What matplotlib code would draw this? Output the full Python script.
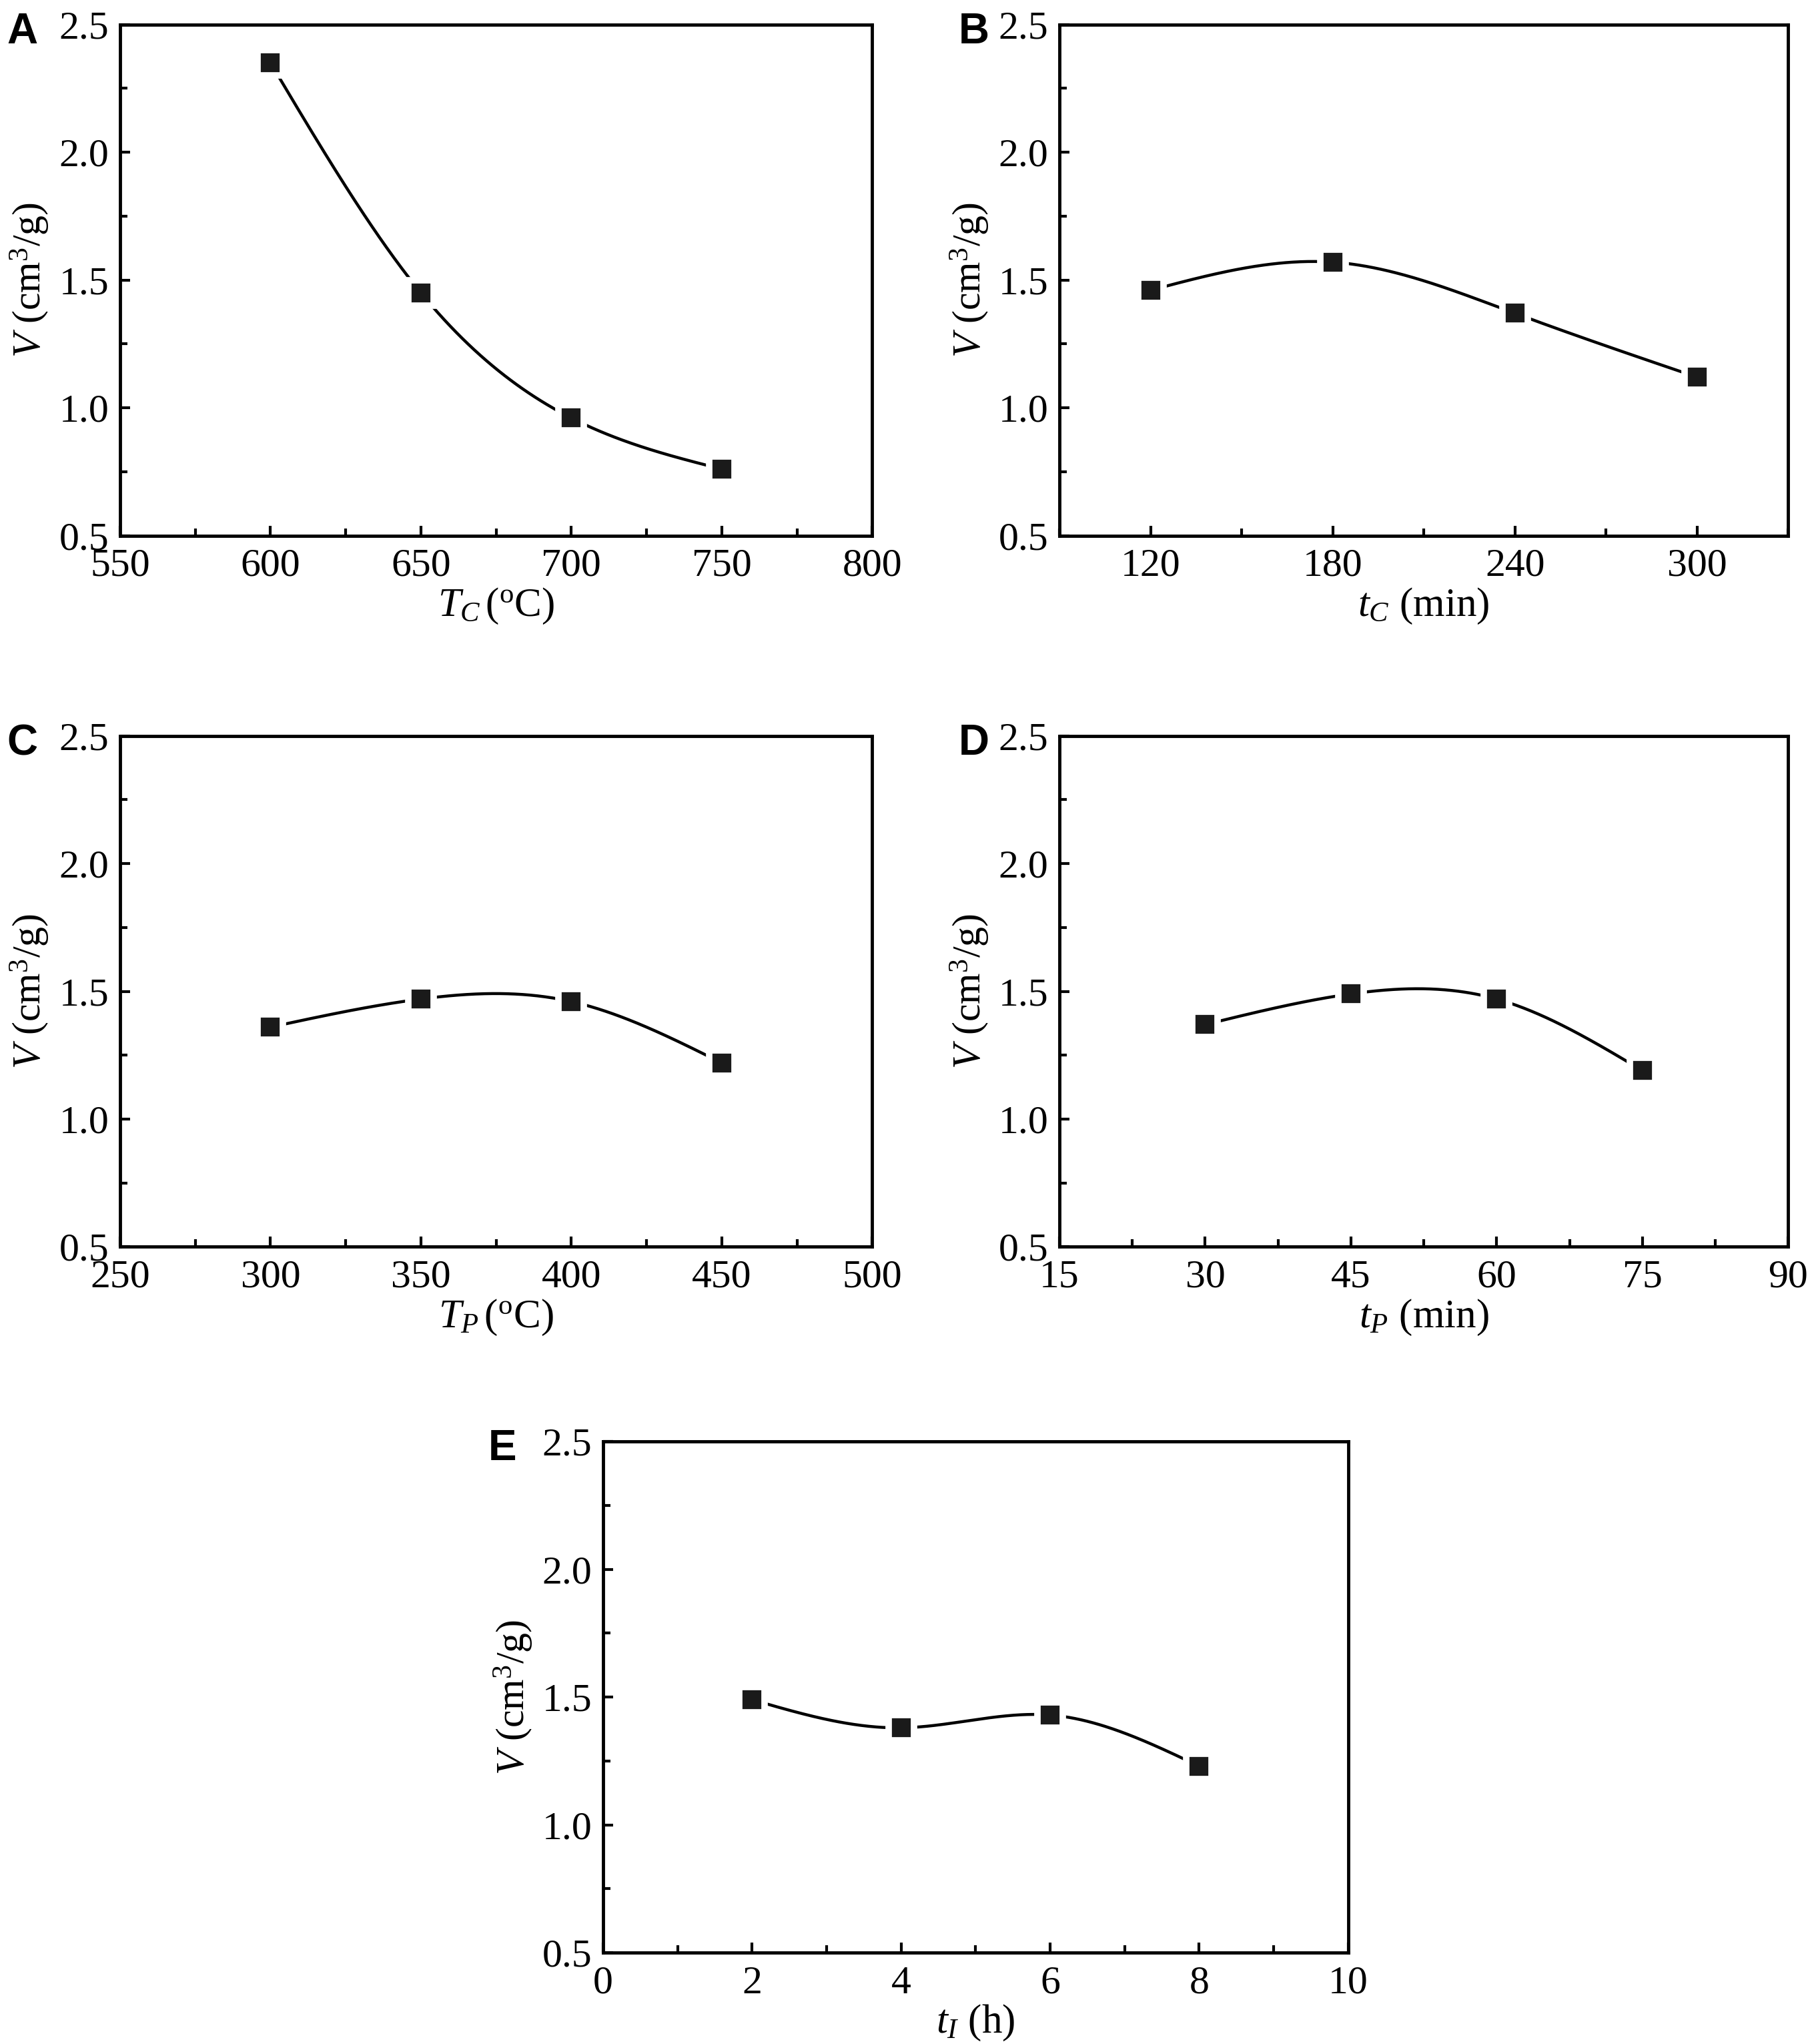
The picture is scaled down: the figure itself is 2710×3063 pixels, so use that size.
import numpy as np
import matplotlib
matplotlib.use("Agg")
import matplotlib.pyplot as plt
from matplotlib.ticker import MultipleLocator

plt.rcParams['font.family'] = ['Liberation Serif', 'DejaVu Serif']
plt.rcParams['mathtext.fontset'] = 'custom'
plt.rcParams['mathtext.rm'] = 'Liberation Serif'
plt.rcParams['mathtext.it'] = 'Liberation Serif:italic'

# datos
x_a = [600, 650, 700, 750]
v_a = [2.35, 1.45, 0.96, 0.76]

x_b = [120, 180, 240, 300]
v_b = [1.46, 1.57, 1.37, 1.12]

x_c = [300, 350, 400, 450]
v_c = [1.36, 1.47, 1.46, 1.22]

x_d = [30, 45, 60, 75]
v_d = [1.37, 1.49, 1.47, 1.19]

x_e = [2, 4, 6, 8]
v_e = [1.49, 1.38, 1.43, 1.23]

xlabels = [r'$T_C\,$($^{\rm o}$C)', r'$t_C$ (min)', r'$T_P\,$($^{\rm o}$C)',
           r'$t_P$ (min)', r'$t_I$ (h)']
letras = ['A', 'B', 'C', 'D', 'E']


def spline_natural(x, y, n=300):
    # spline cubico natural, solo para dibujar la curva suave
    x = np.asarray(x, float)
    y = np.asarray(y, float)
    k = len(x)
    h = np.diff(x)
    A = np.zeros((k, k))
    b = np.zeros(k)
    A[0, 0] = 1
    A[-1, -1] = 1
    for i in range(1, k - 1):
        A[i, i - 1] = h[i - 1]
        A[i, i] = 2 * (h[i - 1] + h[i])
        A[i, i + 1] = h[i]
        b[i] = 6 * ((y[i + 1] - y[i]) / h[i] - (y[i] - y[i - 1]) / h[i - 1])
    M = np.linalg.solve(A, b)
    xs = np.linspace(x[0], x[-1], n)
    idx = np.clip(np.searchsorted(x, xs) - 1, 0, k - 2)
    x0, x1 = x[idx], x[idx + 1]
    hh = x1 - x0
    t1 = x1 - xs
    t0 = xs - x0
    ys = (M[idx] * t1**3 / (6 * hh) + M[idx + 1] * t0**3 / (6 * hh)
          + (y[idx] / hh - M[idx] * hh / 6) * t1
          + (y[idx + 1] / hh - M[idx + 1] * hh / 6) * t0)
    return xs, ys


fig = plt.figure(figsize=(27.10, 30.63), dpi=100)

posiciones = [
    [0.0664, 0.738, 0.416, 0.250],
    [0.586, 0.738, 0.403, 0.250],
    [0.0664, 0.390, 0.416, 0.250],
    [0.586, 0.390, 0.403, 0.250],
    [0.3336, 0.0447, 0.412, 0.250],
]
# posicion de las letras (fraccion de la figura)
pos_letras = [(0.004, 0.994), (0.530, 0.994), (0.004, 0.646),
              (0.530, 0.646), (0.270, 0.301)]
xlims = [(550, 800), (90, 330), (250, 500), (15, 90), (0, 10)]
xmajor = [50, 60, 50, 15, 2]
xs_list = [x_a, x_b, x_c, x_d, x_e]
vs_list = [v_a, v_b, v_c, v_d, v_e]

for i in range(5):
    ax = fig.add_axes(posiciones[i])
    xx, yy = spline_natural(xs_list[i], vs_list[i])
    ax.plot(xx, yy, color='black', lw=3.2, zorder=2)
    ax.plot(xs_list[i], vs_list[i], ls='none', marker='s', ms=27,
            mfc='#1a1a1a', mec='white', mew=7, zorder=3)
    ax.set_xlim(*xlims[i])
    ax.set_ylim(0.5, 2.5)
    ax.xaxis.set_major_locator(MultipleLocator(xmajor[i]))
    ax.xaxis.set_minor_locator(MultipleLocator(xmajor[i] / 2))
    ax.yaxis.set_major_locator(MultipleLocator(0.5))
    ax.yaxis.set_minor_locator(MultipleLocator(0.25))
    if i == 1:
        ax.set_xticks([120, 180, 240, 300])
        ax.xaxis.set_minor_locator(MultipleLocator(30))
    ax.tick_params(which='both', direction='in', top=False, right=False,
                   width=3, labelsize=43)
    ax.tick_params(axis='x', pad=14)
    ax.tick_params(axis='y', pad=12)
    ax.tick_params(which='major', length=11)
    ax.tick_params(which='minor', length=8)
    for s in ax.spines.values():
        s.set_linewidth(3.5)
    ax.set_ylabel(r'$V$ (cm$^3$/g)', fontsize=43, labelpad=8)
    ax.set_xlabel(xlabels[i], fontsize=44, labelpad=2)
    fig.text(pos_letras[i][0], pos_letras[i][1], letras[i], fontsize=46,
             fontweight='bold', family='Liberation Sans', va='top', ha='left')

fig.savefig('out.png', dpi=100)
